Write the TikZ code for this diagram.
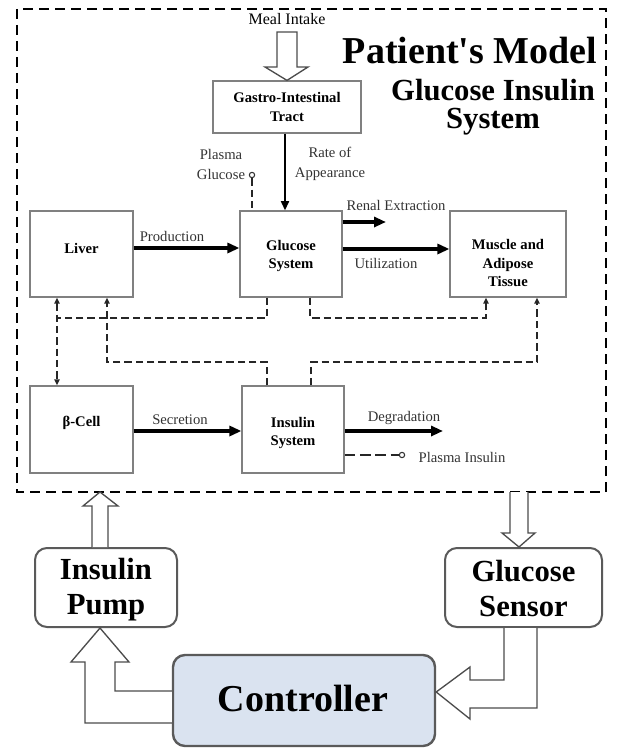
\documentclass[tikz,border=0pt]{standalone}
\usepackage{fontspec}
\setmainfont{Liberation Serif}
\usetikzlibrary{arrows.meta,calc}
\definecolor{ctrlfill}{HTML}{DAE3F0}
\definecolor{edgegray}{HTML}{5A5A5A}
\begin{document}
\begin{tikzpicture}[x=0.75pt,y=-0.75pt,
  sz/.style n args={2}{minimum width=#1*0.75pt,minimum height=#2*0.75pt},
  box/.style={draw=black!50,line width=0.9pt,inner sep=0pt},
  boxtext/.style={inner sep=0pt,align=center,font=\fontsize{11}{14}\selectfont\bfseries},
  rbox/.style={draw=edgegray,line width=1.5pt,rounded corners=9pt,inner sep=0pt},
  rtext/.style={inner sep=0pt,align=center,font=\fontsize{23}{26}\selectfont\bfseries},
  lbl/.style={inner sep=0pt,align=center,text=black!80,font=\fontsize{11}{15}\selectfont},
  flow/.style={line width=2.5pt,-{Triangle[length=9pt,width=7.5pt]}},
  thinflow/.style={line width=1.5pt,-{Triangle[length=7pt,width=6pt]}},
  dsh/.style={line width=1.4pt,dash pattern=on 5.5pt off 3pt,black!85},
  dtip/.style={-{Triangle[length=4.5pt,width=4pt]}},
  dtips/.style={{Triangle[length=4.5pt,width=4pt]}-{Triangle[length=4.5pt,width=4pt]}},
  hollow/.style={draw=black!70,line width=1pt,fill=white,line join=miter},
  dot/.style={circle,draw=black!80,line width=0.8pt,fill=white,inner sep=0pt,minimum size=4pt},
]
\useasboundingbox (0,0) rectangle (617,749);

% outer dashed frame
\draw[line width=1.7pt,dash pattern=on 7.5pt off 4.5pt] (17,9) rectangle (606,492);

% titles
\node[inner sep=0pt,font=\fontsize{28.5}{30}\selectfont\bfseries] (title) at (470,51) {Patient\textquotesingle s Model};
\node[inner sep=0pt,align=center,font=\fontsize{23}{21}\selectfont\bfseries] (subtitle) at (493,107) {Glucose Insulin\\System};
\node[lbl,text=black,font=\fontsize{12}{14}\selectfont] (meal) at (287,19) {Meal Intake};

% model boxes
\node[box,sz={148}{52}] (gi) at (287,107) {};
\node[boxtext] at (287,107) {Gastro-Intestinal\\Tract};
\node[box,sz={102}{86}] (glu) at (291,254) {};
\node[boxtext] at (291,256) {Glucose\\System};
\node[box,sz={103}{86}] (liv) at (81.5,254) {};
\node[boxtext] at (81.5,248) {Liver};
\node[box,sz={116}{86}] (mus) at (508,254) {};
\node[boxtext] at (508,263) {Muscle and\\Adipose\\Tissue};
\node[box,sz={103}{87}] (bc) at (81.5,429.5) {};
\node[boxtext] at (81.5,423) {β-Cell};
\node[box,sz={102}{87}] (ins) at (293,429.5) {};
\node[boxtext] at (293,433) {Insulin\\System};

% meal intake hollow arrow
\draw[hollow] (277,32) -- (297,32) -- (297,67) -- (308,67) -- (gi.north -| 287,0) -- (265,67) -- (277,67) -- cycle;

% solid flows
\draw[thinflow] (gi.south -| 285,0) -- (glu.north -| 285,0);
\draw[flow] (liv.east |- 0,248) -- (glu.west |- 0,248);
\coordinate (renal) at (386,222);
\draw[flow] (glu.east |- renal) -- (renal);
\draw[flow] (glu.east |- 0,249) -- (mus.west |- 0,249);
\draw[flow] (bc.east |- 0,431) -- (ins.west |- 0,431);
\coordinate (degr) at (443,431);
\draw[flow] (ins.east |- degr) -- (degr);

% plasma markers
\node[dot] (pgc) at (252,175) {};
\draw[dsh] (pgc) -- (glu.north -| pgc);
\node[dot] (pic) at (402,455) {};
\draw[line width=1.4pt,dash pattern=on 8pt off 3.5pt,black!85] (ins.east |- pic) -- (pic);

% labels
\node[lbl] at (221,164) {Plasma\\Glucose};
\node[lbl] at (330,164) {Rate of\\Appearance};
\node[lbl] at (172,236) {Production};
\node[lbl] at (396,205) {Renal Extraction};
\node[lbl] at (386,263) {Utilization};
\node[lbl] at (180,420) {Secretion};
\node[lbl] at (404,418) {Degradation};
\node[lbl] at (462,457) {Plasma Insulin};

% dashed feedback connectors
\draw[dsh] (glu.south -| 267,0) |- (57,318);
\draw[dsh,dtips] (liv.south -| 57,0) -- (bc.north -| 57,0);
\draw[dsh,dtip] (ins.north -| 267,0) |- (107,362) -- (liv.south -| 107,0);
\draw[dsh,dtip] (glu.south -| 310,0) |- (486,318) -- (mus.south -| 486,0);
\draw[dsh,dtip] (ins.north -| 311,0) |- (537,362) -- (mus.south -| 537,0);

% bottom loop
\node[rbox,sz={142}{79}] (pump) at (106,587.5) {};
\node[rtext] at (106,589.5) {Insulin\\Pump};
\node[rbox,sz={157}{79}] (sens) at (523.5,587.5) {};
\node[rtext] at (523.5,588.5) {Glucose\\Sensor};
\node[rbox,fill=ctrlfill,line width=1.8pt,sz={262}{91}] (ctrl) at (304,700.5) {};
\node[inner sep=0pt,font=\fontsize{28.5}{30}\selectfont\bfseries] at (303,698) {Controller};

% hollow arrows
\draw[hollow] (pump.north -| 92,0) -- (92,506) -- (83,506) -- (100,492) -- (118,506) -- (108,506) -- (pump.north -| 108,0);
\draw[hollow] (510,492) -- (510,533) -- (502,533) -- (sens.north -| 519,0) -- (535,533) -- (528,533) -- (528,492);
\draw[hollow] (ctrl.west |- 0,691) -- (115,691) -- (115,662) -- (129,662) -- (pump.south -| 100,0) -- (71,662) -- (85,662) -- (85,723) -- (ctrl.west |- 0,723);
\draw[hollow] (sens.south -| 504,0) -- (504,680) -- (470,680) -- (470,667) -- (ctrl.east |- 0,692) -- (470,719) -- (470,708) -- (537,708) -- (sens.south -| 537,0);
\end{tikzpicture}
\end{document}
